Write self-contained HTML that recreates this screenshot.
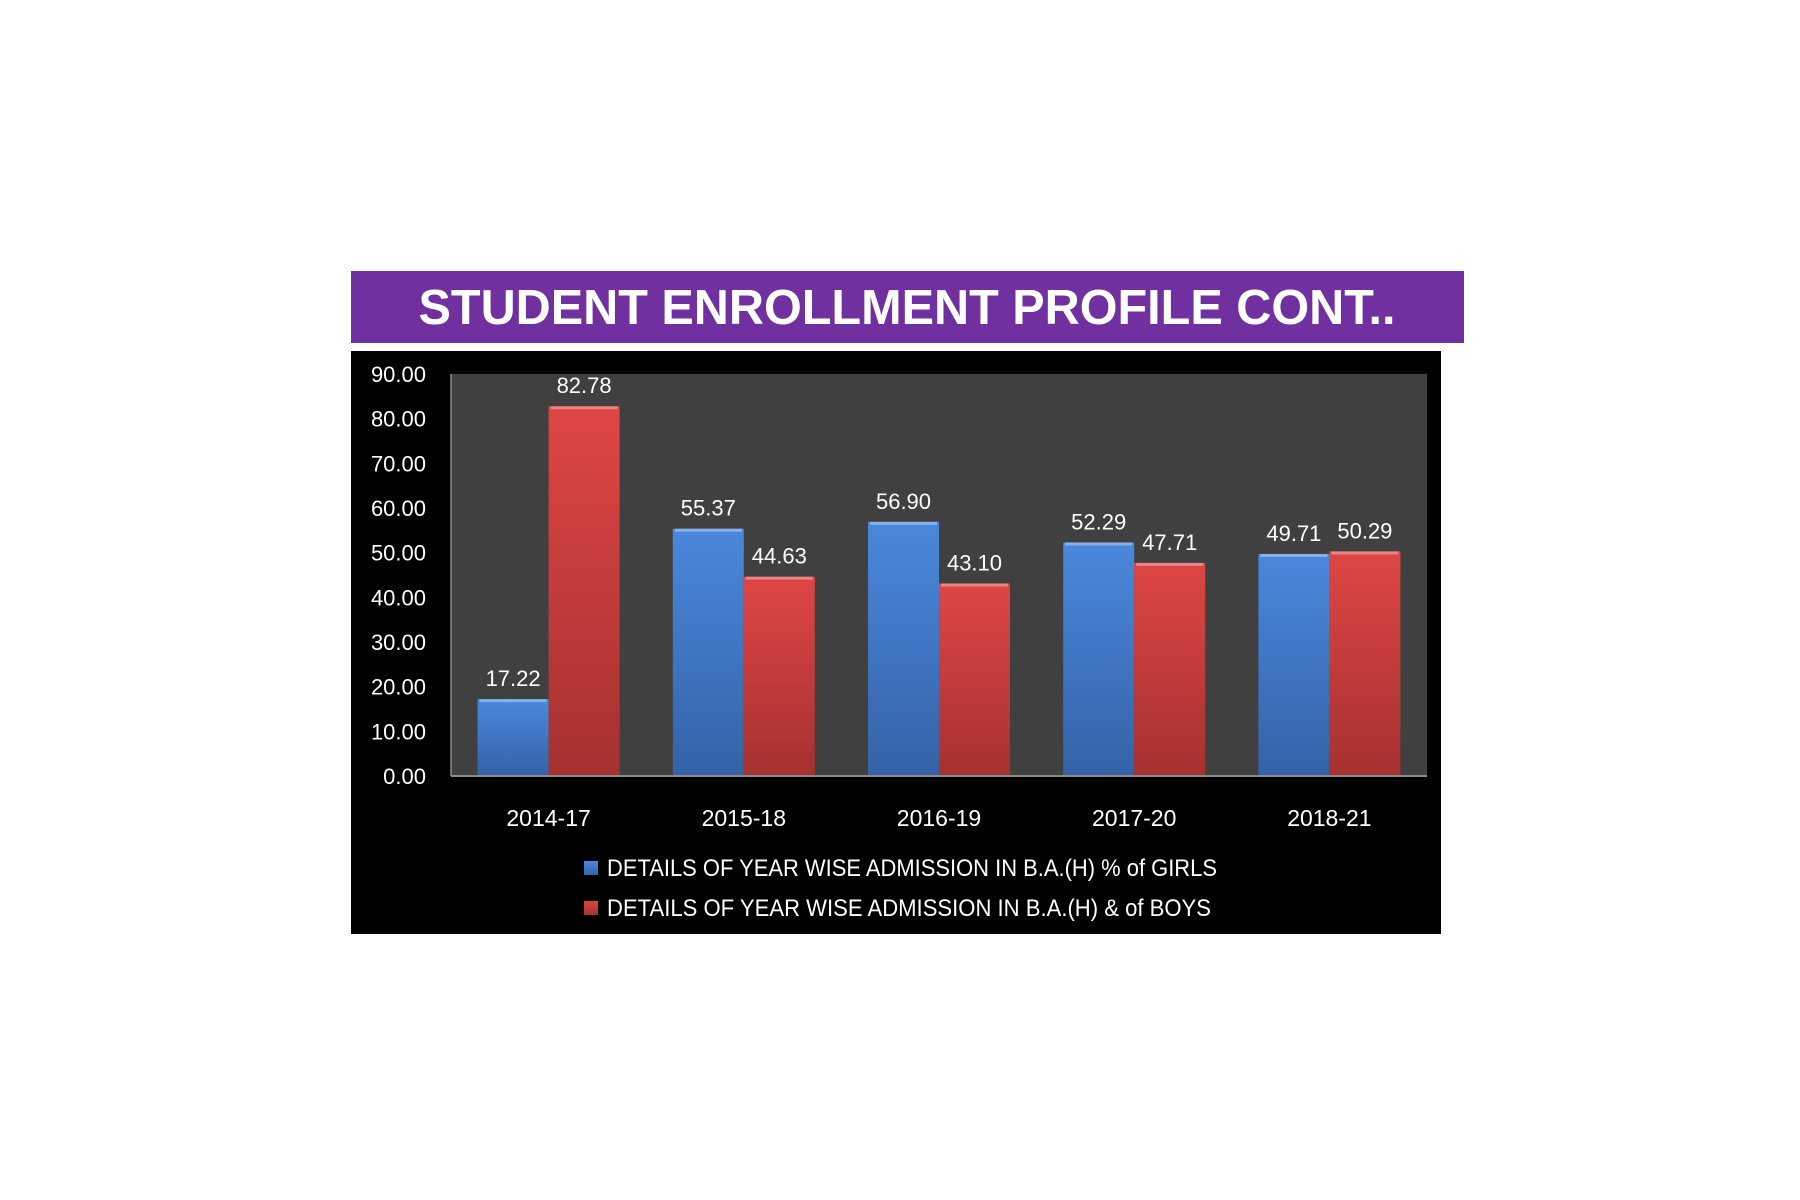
<!DOCTYPE html>
<html><head><meta charset="utf-8"><style>
html,body{margin:0;padding:0;background:#fff;width:1800px;height:1200px;overflow:hidden}
svg{display:block}
text{font-family:"Liberation Sans",sans-serif}
</style></head><body>
<svg id="chart" width="1800" height="1200" viewBox="0 0 1800 1200">
<defs>
<linearGradient id="gb" x1="0" y1="0" x2="0" y2="1"><stop offset="0" stop-color="#4a88dc"/><stop offset="1" stop-color="#3562a6"/></linearGradient>
<linearGradient id="gr" x1="0" y1="0" x2="0" y2="1"><stop offset="0" stop-color="#de4644"/><stop offset="1" stop-color="#a53130"/></linearGradient>
</defs>
<rect x="351" y="271" width="1113" height="72" fill="#7030a0"/>
<text x="907" y="324" text-anchor="middle" fill="#fff" font-weight="bold" font-size="49" textLength="977" lengthAdjust="spacingAndGlyphs">STUDENT ENROLLMENT PROFILE CONT..</text>
<rect x="351" y="351" width="1090" height="583" fill="#000"/>
<rect x="451" y="374" width="976" height="402" fill="#404040"/>
<g id="yaxis"></g>
<g id="bars"></g>
<line x1="451" y1="776" x2="1427" y2="776" stroke="#8a8a8a" stroke-width="2"/>
<line x1="451" y1="374" x2="451" y2="776" stroke="#8a8a8a" stroke-width="1.5"/>
<g id="xaxis"></g>
<g>
<rect x="584" y="861" width="14" height="14" fill="url(#gb)"/>
<text x="607" y="876" fill="#fff" font-size="24" textLength="610" lengthAdjust="spacingAndGlyphs">DETAILS OF YEAR WISE ADMISSION IN B.A.(H) % of GIRLS</text>
<rect x="584" y="901" width="14" height="14" fill="url(#gr)"/>
<text x="607" y="916" fill="#fff" font-size="24" textLength="604" lengthAdjust="spacingAndGlyphs">DETAILS OF YEAR WISE ADMISSION IN B.A.(H) &amp; of BOYS</text>
</g>
</svg>
<script>
const categories = ["2014-17","2015-18","2016-19","2017-20","2018-21"];
const girls = [17.22, 55.37, 56.90, 52.29, 49.71];
const boys = [82.78, 44.63, 43.10, 47.71, 50.29];
const yTicks = [0,10,20,30,40,50,60,70,80,90];

const NS = "http://www.w3.org/2000/svg";
const plotL = 451, plotR = 1427, plotT = 374, plotB = 776, yMax = 90;
const band = (plotR - plotL) / categories.length;
const barW = band * 0.3637;
const y = v => plotB - (v / yMax) * (plotB - plotT);
const x = i => plotL + i * band;

function mk(tag, attrs, parent) {
  const e = document.createElementNS(NS, tag);
  for (const k in attrs) e.setAttribute(k, attrs[k]);
  parent.appendChild(e);
  return e;
}
const ya = document.getElementById('yaxis');
yTicks.forEach(t => {
  const tx = mk('text', {x: 426, y: y(t) + 8, 'text-anchor': 'end', fill: '#fff', 'font-size': 22}, ya);
  
  
  tx.textContent = t.toFixed(2);
});
const xa = document.getElementById('xaxis');
const bg = document.getElementById('bars');
categories.forEach((c, i) => {
  const cx = x(i) + band / 2;
  const lt = mk('text', {x: cx, y: 826, 'text-anchor': 'middle', fill: '#fff', 'font-size': 23}, xa);
  
  
  lt.textContent = c;
  [[girls[i], 'url(#gb)', -barW, 'girls'], [boys[i], 'url(#gr)', 0, 'boys']].forEach(([v, fill, off, nm]) => {
    const bx = cx + off;
    const r = mk('rect', {x: bx, y: y(v), width: barW, height: plotB - y(v), fill: fill}, bg);
    
    
    const hl = mk('rect', {x: bx + 2, y: y(v), width: barW - 4, height: 3, fill: 'rgba(255,255,255,0.35)'}, bg);
    
    
    const vl = mk('text', {x: bx + barW / 2, y: y(v) - 13, 'text-anchor': 'middle', fill: '#fff', 'font-size': 22}, bg);
    
    
    vl.textContent = v.toFixed(2);
  });
});
</script>
</body></html>
